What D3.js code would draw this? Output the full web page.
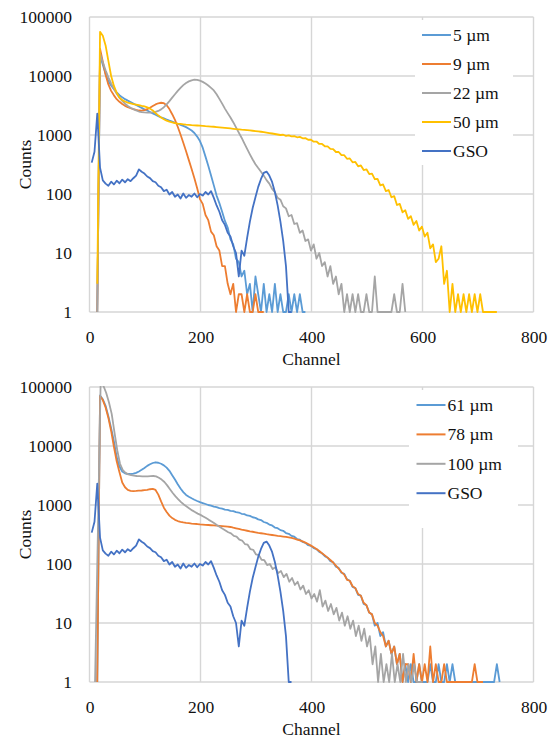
<!DOCTYPE html>
<html><head><meta charset="utf-8">
<script src="https://cdn.jsdelivr.net/npm/d3@7/dist/d3.min.js"></script>
<style>
html,body{margin:0;padding:0;background:#fff;}
svg{display:block;}
</style></head>
<body><svg id="c" width="549" height="740"></svg>
<script>
// ---------- data (counts per channel bin, bins every 5 channels) ----------
const channelStep = 5;
const xTicks = [0, 200, 400, 600, 800];
const yTicks = [1, 10, 100, 1000, 10000, 100000];
const xLabel = "Channel";
const yLabel = "Counts";

// top panel
const topNames = ["5 µm", "9 µm", "22 µm", "50 µm", "GSO"];
const start5um = 14;
const counts5um = [0,22000,15500,10800,8200,6900,6000,5300,4750,4350,4050,3820,3620,3420,3230,3040,2880,2720,2600,2460,2330,2210,2090,1990,1910,1830,1750,1680,1610,1550,1490,1430,1360,1280,1190,1080,940,790,610,430,300,205,140,94,70,50,35,27,17,14,8,7,4,5,2,3,1,4,2,0,3,1,2,0,3,0,2,0,1,2,0,2,0,2,0,0];
const start9um = 14;
const counts9um = [0,29000,17500,10500,7200,5600,4700,4050,3650,3350,3120,2960,2840,2740,2660,2600,2590,2640,2740,2900,3100,3300,3450,3520,3460,3200,2750,2250,1800,1380,1020,740,530,375,265,185,125,82,68,44,36,23,20,13,11,6,6,3,2,3,1,2,2,0,2,1,0,2,0,1,0];
const start22um = 14;
const counts22um = [0,24000,17000,12500,9500,7500,6000,5000,4300,3800,3400,3100,2900,2750,2600,2500,2450,2420,2400,2390,2410,2460,2560,2720,2960,3300,3750,4300,4900,5600,6300,7000,7600,8100,8450,8650,8600,8350,7950,7450,6900,6300,5700,4900,4100,3400,2800,2350,1980,1650,1350,1100,900,720,580,470,385,320,275,238,205,172,150,122,108,86,80,62,57,42,44,31,32,22,24,16,17,11,14,8,10,6,7,4,6,3,4,2,3,1,2,0,2,1,2,0,1,2,0,0,4,0,0,1,0,0,0,2,0,0,3,0];
const start50um = 14;
const counts50um = [3,56000,48000,33000,18000,10000,6800,5200,4300,3900,3700,3550,3450,3350,3280,3200,3120,3050,2950,2800,2600,2350,2150,1980,1850,1750,1680,1630,1590,1560,1540,1520,1500,1485,1470,1460,1450,1440,1430,1415,1405,1390,1380,1365,1350,1335,1320,1305,1290,1275,1260,1250,1235,1225,1210,1195,1180,1165,1150,1135,1120,1100,1080,1060,1040,1020,1000,1010,965,985,950,955,915,930,880,885,830,830,770,775,705,705,645,640,580,575,515,515,455,455,395,400,345,350,295,305,255,262,218,222,178,180,140,145,112,117,88,92,65,68,49,53,38,42,30,35,24,28,19,22,12,14,7,8,13,3,5,1,3,1,2,0,2,0,2,0,2,0,2,0,0,0,1,0,1];
const startGSO = 4;
const countsGSO = [340,520,2300,280,170,150,138,162,145,168,152,175,158,178,165,185,205,262,238,222,198,186,165,158,138,130,112,118,98,108,90,98,84,102,86,96,90,102,88,100,94,108,98,112,86,64,50,36,30,22,19,13,10,4,11,9,18,34,58,88,132,180,228,240,205,160,108,64,34,16,6,1,0];

// bottom panel
const bottomNames = ["61 µm", "78 µm", "100 µm", "GSO"];
const start61um = 14;
const counts61um = [0,72000,62000,48000,32000,20000,12000,6500,4500,3700,3450,3350,3350,3400,3500,3700,3950,4250,4600,4900,5150,5300,5200,5000,4700,4300,3800,3200,2700,2250,1900,1650,1480,1380,1300,1230,1170,1120,1080,1040,1000,975,940,920,885,870,835,825,795,785,755,745,710,700,665,655,620,605,570,555,515,500,465,450,415,405,375,365,335,325,300,290,265,258,236,228,208,203,186,178,160,152,136,128,112,107,90,86,71,68,55,52,41,39,30,29,21,20,15,14,9,10,6,7,4,5,3,4,2,3,1,2,0,2,1,0,2,0,1,0,2,0,0,2,0,0,2,0,2,0,0,0,0,1,0,1,0,0,0,0,0,0,0,0,2,0];
const start78um = 14;
const counts78um = [0,70000,60000,45000,30000,18000,9700,5500,3600,2400,2000,1800,1740,1720,1730,1750,1760,1780,1800,1850,1880,1800,1500,1150,900,760,660,600,560,535,520,508,498,492,485,480,476,470,466,462,458,454,450,446,442,438,434,430,424,412,402,392,382,374,366,358,352,345,338,332,326,320,315,310,305,300,296,292,288,282,276,268,260,252,242,230,218,205,192,180,166,152,140,128,117,106,94,83,73,66,54,52,42,39,31,29,22,20,15,14,10,9,7,6,4,5,3,4,2,3,1,2,2,1,3,0,2,0,2,0,4,0,2,0,0,2,0,0,0,0,0,0,0,0,1,0,2,0,1,0];
const start100um = 10;
const counts100um = [0,300,110000,105000,80000,55000,35000,17000,8500,5000,3900,3500,3300,3200,3150,3100,3080,3060,3050,3050,3080,3100,3050,2900,2700,2450,2150,1850,1600,1400,1250,1120,1020,940,870,810,760,715,680,640,600,560,525,490,455,425,395,370,345,330,300,292,258,250,218,212,178,174,145,142,118,116,96,100,82,88,70,76,60,68,50,58,44,50,37,43,31,36,26,31,23,36,19,24,16,21,14,18,11,15,9,13,8,11,6,9,5,8,4,6,2,4,1,3,1,2,0,3,1,2,0,3,1,2,0,2,1,0,0];

const colors = {"5 µm":"#5B9BD5","9 µm":"#ED7D31","22 µm":"#A5A5A5","50 µm":"#FFC000","GSO":"#4472C4",
                "61 µm":"#5B9BD5","78 µm":"#ED7D31","100 µm":"#A5A5A5"};

const topSeries = [
  {name: topNames[0], start: start5um, counts: counts5um},
  {name: topNames[1], start: start9um, counts: counts9um},
  {name: topNames[2], start: start22um, counts: counts22um},
  {name: topNames[3], start: start50um, counts: counts50um},
  {name: topNames[4], start: startGSO, counts: countsGSO}
];
const bottomSeries = [
  {name: bottomNames[0], start: start61um, counts: counts61um},
  {name: bottomNames[1], start: start78um, counts: counts78um},
  {name: bottomNames[2], start: start100um, counts: counts100um},
  {name: bottomNames[3], start: startGSO, counts: countsGSO}
];

// ---------- drawing ----------
const svg = d3.select("#c");
const fontSize = 17.5;
const fontFam = '"Liberation Serif", Tinos, "Times New Roman", Times, "Nimbus Roman", "DejaVu Serif", serif';

function styleText(sel) {
  sel.attr("font-family", fontFam).style("font-family", fontFam)
     .style("font-size", fontSize + "px").attr("fill", "#111");
}

function panel(series, oy, legend, idx) {
  const x = d3.scaleLinear().domain([0, 800]).range([89.5, 533.5]);
  const y = d3.scaleLog().domain([1, 100000]).range([oy + 312, oy + 17]);
  const g = svg.append("g");

  g.selectAll("line.h").data(yTicks).join("line")
    .attr("x1", x(0)).attr("x2", x(800))
    .attr("y1", d => y(d)).attr("y2", d => y(d))
    .attr("stroke", "#d6d6d6").attr("stroke-width", 1.4);
  g.selectAll("line.v").data(xTicks).join("line")
    .attr("y1", y(1)).attr("y2", y(100000))
    .attr("x1", d => x(d)).attr("x2", d => x(d))
    .attr("stroke", "#d6d6d6").attr("stroke-width", 1.4);

  const cid = "clip" + idx;
  svg.append("defs").append("clipPath").attr("id", cid)
    .append("rect").attr("x", x(0)).attr("y", y(100000) - 1)
    .attr("width", x(800) - x(0)).attr("height", y(1) - y(100000) + 3);

  const line = d3.line()
    .x(d => x(d.ch))
    .y(d => y(Math.max(d.v, 1)));

  const lg = g.append("g").attr("clip-path", `url(#${cid})`);
  series.forEach(s => {
    const pts = s.counts.map((v, i) => ({ch: s.start + i * channelStep, v}));
    lg.append("path").datum(pts).attr("d", line)
      .attr("fill", "none").attr("stroke", colors[s.name])
      .attr("stroke-width", 1.8).attr("stroke-linejoin", "round");
  });

  const ax = d3.axisBottom(x).tickValues(xTicks).tickSize(0).tickPadding(19).tickFormat(d => d);
  const axg = g.append("g").attr("transform", `translate(0,${y(1)})`).call(ax);
  axg.select(".domain").remove();
  axg.attr("font-family", fontFam);
  styleText(axg.selectAll("text"));

  const ay = d3.axisLeft(y).tickValues(yTicks).tickSize(0).tickPadding(17.5).tickFormat(d => d);
  const ayg = g.append("g").attr("transform", `translate(${x(0)},0)`).call(ay);
  ayg.select(".domain").remove();
  ayg.attr("font-family", fontFam);
  styleText(ayg.selectAll("text"));

  styleText(g.append("text").attr("x", x(400)).attr("y", oy + 365)
    .attr("text-anchor", "middle").text(xLabel));
  styleText(g.append("text").attr("transform", `translate(31,${(y(1) + y(100000)) / 2}) rotate(-90)`)
    .attr("text-anchor", "middle").text(yLabel));

  g.append("rect").attr("x", legend.bx).attr("y", oy + legend.by)
    .attr("width", legend.bw).attr("height", legend.bh).attr("fill", "#fff");
  series.forEach((s, i) => {
    const ly = oy + legend.y0 + i * legend.dy;
    g.append("line").attr("x1", legend.lx).attr("x2", legend.lx + 29)
      .attr("y1", ly).attr("y2", ly).attr("stroke", colors[s.name]).attr("stroke-width", 2);
    styleText(g.append("text").attr("x", legend.lx + 31).attr("y", ly).attr("dy", "0.34em").text(s.name));
  });
}

panel(topSeries, 0, {bx: 415, by: 20, bw: 98, bh: 145, lx: 422, y0: 35, dy: 29}, 0);
panel(bottomSeries, 370, {bx: 409, by: 20, bw: 109, bh: 138, lx: 416.5, y0: 35, dy: 29.4}, 1);
</script></body></html>
